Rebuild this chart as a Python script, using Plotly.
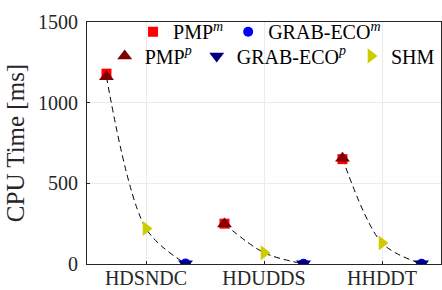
import plotly.graph_objects as go

categories = ["HDSNDC", "HDUDDS", "HHDDT"]
pmp_m = [1180, 250, 650]
pmp_p = [1160, 248, 655]
shm = [220, 70, 130]
grab_m = [3, 2, 2]
grab_p = [2, 1, 1]
y_ticks = [0, 500, 1000, 1500]

OFF = 0.335
idx = list(range(1, len(categories) + 1))
FONT = "Liberation Serif"

fig = go.Figure()

for i, c in enumerate(categories):
    fig.add_trace(go.Scatter(
        x=[idx[i] - OFF, idx[i], idx[i] + OFF],
        y=[pmp_p[i], shm[i], grab_p[i]],
        mode="lines", line=dict(color="black", width=1, dash="6px,4px", shape="spline", smoothing=0.9),
        showlegend=False, hoverinfo="skip"))

fig.add_trace(go.Scatter(x=[i - OFF for i in idx], y=pmp_m, mode="markers", name="PMP<sup><i>m</i></sup>",
                         marker=dict(symbol="square", color="#ff0000", size=10), legend="legend"))
fig.add_trace(go.Scatter(x=[i + OFF for i in idx], y=grab_m, mode="markers", name="GRAB-ECO<sup><i>m</i></sup>",
                         marker=dict(symbol="circle", color="#0000ff", size=10), legend="legend"))
fig.add_trace(go.Scatter(x=[i - OFF for i in idx], y=pmp_p, mode="markers", name="PMP<sup><i>p</i></sup>",
                         marker=dict(symbol="triangle-up", color="#7f0000", size=13), legend="legend2"))
fig.add_trace(go.Scatter(x=[i + OFF for i in idx], y=grab_p, mode="markers", name="GRAB-ECO<sup><i>p</i></sup>",
                         marker=dict(symbol="triangle-down", color="#00007f", size=13), legend="legend2"))
fig.add_trace(go.Scatter(x=idx, y=shm, mode="markers", name="SHM",
                         marker=dict(symbol="triangle-right", color="#cccc00", size=13), legend="legend2"))

fig.update_layout(
    width=442, height=290,
    margin=dict(l=87, r=1, t=22, b=26, autoexpand=False),
    paper_bgcolor="white", plot_bgcolor="white",
    font=dict(family=FONT, size=20, color="#262626"),
    legend=dict(orientation="h", x=0.13, y=0.96, xanchor="left", yanchor="middle",
                bgcolor="rgba(0,0,0,0)", font=dict(family=FONT, size=20, color="black"),
                traceorder="normal", tracegroupgap=0),
    legend2=dict(orientation="h", x=0.05, y=0.86, xanchor="left", yanchor="middle",
                 bgcolor="rgba(0,0,0,0)", font=dict(family=FONT, size=20, color="black"),
                 traceorder="normal"),
    xaxis=dict(range=[0.5, 3.5], tickmode="array", tickvals=idx, ticktext=categories,
               showgrid=True, gridcolor="#ebebeb", gridwidth=1, automargin=False,
               showline=True, linecolor="#262626", linewidth=1, mirror=True,
               ticks="inside", ticklen=3, tickcolor="#262626", zeroline=False,
               tickfont=dict(size=20), ticklabelstandoff=-4),
    yaxis=dict(range=[0, 1500], tickmode="array", tickvals=y_ticks, automargin=False,
               showgrid=True, gridcolor="#ebebeb", gridwidth=1,
               showline=True, linecolor="#262626", linewidth=1, mirror=True,
               ticks="inside", ticklen=3, tickcolor="#262626", zeroline=False,
               tickfont=dict(size=20), ticklabelstandoff=4,
               title=dict(text="CPU Time [ms]", font=dict(size=25), standoff=6)),
)

fig.write_html("out.html", config={"displayModeBar": False},
               post_script="document.body.style.margin='0';")
